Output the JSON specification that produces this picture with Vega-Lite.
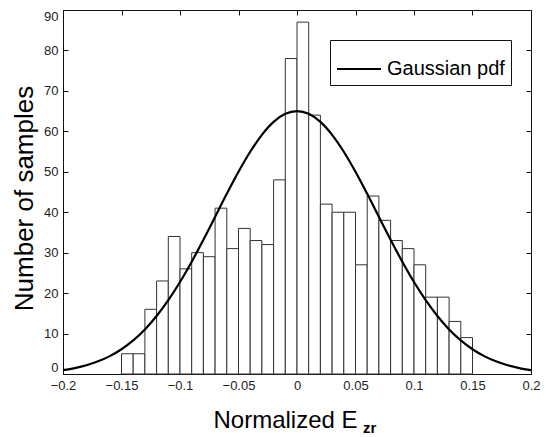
{
  "$schema": "https://vega.github.io/schema/vega-lite/v6.json",
  "width": 468,
  "height": 364,
  "autosize": "none",
  "padding": {"left": 63, "top": 10, "right": 21, "bottom": 63},
  "background": "white",
  "config": {
    "view": {"stroke": "#111", "strokeWidth": 1},
    "font": "Liberation Sans",
    "axis": {"labelFont": "Liberation Sans", "titleFont": "Liberation Sans", "grid": false}
  },
  "datasets": {
    "hist": [
      {"lo": -0.15, "hi": -0.14, "count": 5},
      {"lo": -0.14, "hi": -0.13, "count": 5},
      {"lo": -0.13, "hi": -0.12, "count": 16},
      {"lo": -0.12, "hi": -0.11, "count": 23},
      {"lo": -0.11, "hi": -0.10, "count": 34},
      {"lo": -0.10, "hi": -0.09, "count": 26},
      {"lo": -0.09, "hi": -0.08, "count": 30},
      {"lo": -0.08, "hi": -0.07, "count": 29},
      {"lo": -0.07, "hi": -0.06, "count": 41},
      {"lo": -0.06, "hi": -0.05, "count": 31},
      {"lo": -0.05, "hi": -0.04, "count": 36},
      {"lo": -0.04, "hi": -0.03, "count": 33},
      {"lo": -0.03, "hi": -0.02, "count": 32},
      {"lo": -0.02, "hi": -0.01, "count": 48},
      {"lo": -0.01, "hi": 0.0, "count": 78},
      {"lo": 0.0, "hi": 0.01, "count": 87},
      {"lo": 0.01, "hi": 0.02, "count": 64},
      {"lo": 0.02, "hi": 0.03, "count": 42},
      {"lo": 0.03, "hi": 0.04, "count": 40},
      {"lo": 0.04, "hi": 0.05, "count": 40},
      {"lo": 0.05, "hi": 0.06, "count": 27},
      {"lo": 0.06, "hi": 0.07, "count": 44},
      {"lo": 0.07, "hi": 0.08, "count": 38},
      {"lo": 0.08, "hi": 0.09, "count": 33},
      {"lo": 0.09, "hi": 0.10, "count": 31},
      {"lo": 0.10, "hi": 0.11, "count": 27},
      {"lo": 0.11, "hi": 0.12, "count": 19},
      {"lo": 0.12, "hi": 0.13, "count": 19},
      {"lo": 0.13, "hi": 0.14, "count": 13},
      {"lo": 0.14, "hi": 0.15, "count": 9}
    ],
    "pdf": [
      {"x": -0.20, "y": 0.97},
      {"x": -0.19, "y": 1.47},
      {"x": -0.18, "y": 2.16},
      {"x": -0.17, "y": 3.13},
      {"x": -0.16, "y": 4.42},
      {"x": -0.15, "y": 6.12},
      {"x": -0.14, "y": 8.30},
      {"x": -0.13, "y": 11.02},
      {"x": -0.12, "y": 14.33},
      {"x": -0.11, "y": 18.24},
      {"x": -0.10, "y": 22.74},
      {"x": -0.09, "y": 27.76},
      {"x": -0.08, "y": 33.19},
      {"x": -0.07, "y": 38.85},
      {"x": -0.06, "y": 44.54},
      {"x": -0.05, "y": 49.99},
      {"x": -0.04, "y": 54.95},
      {"x": -0.03, "y": 59.14},
      {"x": -0.02, "y": 62.33},
      {"x": -0.01, "y": 64.32},
      {"x": 0.00, "y": 65.0},
      {"x": 0.01, "y": 64.32},
      {"x": 0.02, "y": 62.33},
      {"x": 0.03, "y": 59.14},
      {"x": 0.04, "y": 54.95},
      {"x": 0.05, "y": 49.99},
      {"x": 0.06, "y": 44.54},
      {"x": 0.07, "y": 38.85},
      {"x": 0.08, "y": 33.19},
      {"x": 0.09, "y": 27.76},
      {"x": 0.10, "y": 22.74},
      {"x": 0.11, "y": 18.24},
      {"x": 0.12, "y": 14.33},
      {"x": 0.13, "y": 11.02},
      {"x": 0.14, "y": 8.30},
      {"x": 0.15, "y": 6.12},
      {"x": 0.16, "y": 4.42},
      {"x": 0.17, "y": 3.13},
      {"x": 0.18, "y": 2.16},
      {"x": 0.19, "y": 1.47},
      {"x": 0.20, "y": 0.97}
    ],
    "sub": [{"t": "zr"}]
  },
  "layer": [
    {
      "data": {"name": "hist"},
      "mark": {"type": "bar", "fill": "white", "stroke": "#333", "strokeWidth": 1},
      "encoding": {
        "x": {
          "field": "lo", "type": "quantitative",
          "scale": {"domain": [-0.2, 0.2], "nice": false, "zero": false},
          "axis": {
            "orient": "bottom",
            "values": [-0.2, -0.15, -0.1, -0.05, 0, 0.05, 0.1, 0.15, 0.2],
            "format": "~g",
            "labelFontSize": 13, "labelColor": "#222",
            "ticks": false, "domainColor": "#111",
            "labelPadding": 5, "labelFlush": false,
            "title": "Normalized E", "titleFontSize": 24, "titleFontWeight": "normal",
            "titleColor": "#000", "titleBaseline": "alphabetic",
            "titleX": 222, "titleY": 53, "titleAnchor": null
          }
        },
        "x2": {"field": "hi"},
        "y": {
          "field": "count", "type": "quantitative",
          "scale": {"domain": [0, 90], "nice": false},
          "axis": {
            "orient": "left",
            "values": [0, 10, 20, 30, 40, 50, 60, 70, 80, 90],
            "labelFontSize": 13, "labelColor": "#222",
            "ticks": false, "domainColor": "#111",
            "labelPadding": 5, "labelFlush": true,
            "title": "Number of samples", "titleFontSize": 26, "titleFontWeight": "normal",
            "titleColor": "#000", "titleBaseline": "alphabetic",
            "titleX": -31, "titleY": 188, "titleAngle": -90
          }
        },
        "y2": {"datum": 0}
      }
    },
    {
      "data": {"name": "pdf"},
      "mark": {"type": "line", "strokeWidth": 2.2, "interpolate": "monotone"},
      "encoding": {
        "x": {
          "field": "x", "type": "quantitative",
          "axis": {
            "orient": "top", "offset": -364, "labels": false, "domain": false, "title": null,
            "values": [-0.2, -0.15, -0.1, -0.05, 0, 0.05, 0.1, 0.15, 0.2],
            "tickSize": 5, "tickColor": "#111"
          }
        },
        "y": {
          "field": "y", "type": "quantitative",
          "axis": {
            "orient": "right", "offset": -468, "labels": false, "domain": false, "title": null,
            "values": [0, 10, 20, 30, 40, 50, 60, 70, 80, 90],
            "tickSize": 5, "tickColor": "#111"
          }
        },
        "color": {
          "datum": "Gaussian pdf",
          "scale": {"range": ["#000"]},
          "legend": {
            "title": null, "orient": "none", "legendX": 267, "legendY": 30,
            "symbolType": "stroke", "symbolSize": 1936, "symbolStrokeWidth": 2,
            "labelFontSize": 20, "labelColor": "#000", "labelFont": "Liberation Sans",
            "labelOffset": 5, "padding": 6,
            "fillColor": "white", "strokeColor": "#111", "cornerRadius": 0
          }
        }
      }
    },
    {
      "data": {"name": "sub"},
      "mark": {"type": "text", "align": "left", "baseline": "alphabetic", "dy": 59, "fontSize": 15, "fontWeight": "bold", "font": "Liberation Sans", "color": "#000"},
      "encoding": {
        "x": {
          "datum": 0.0564, "type": "quantitative",
          "axis": {
            "orient": "bottom", "offset": -364, "labels": false, "domain": false, "title": null,
            "values": [-0.2, -0.15, -0.1, -0.05, 0, 0.05, 0.1, 0.15, 0.2],
            "tickSize": 5, "tickColor": "#111"
          }
        },
        "y": {
          "datum": 0, "type": "quantitative",
          "axis": {
            "orient": "left", "offset": -468, "labels": false, "domain": false, "title": null,
            "values": [0, 10, 20, 30, 40, 50, 60, 70, 80, 90],
            "tickSize": 5, "tickColor": "#111"
          }
        },
        "text": {"field": "t"}
      }
    }
  ],
  "resolve": {"axis": {"x": "independent", "y": "independent"}}
}
